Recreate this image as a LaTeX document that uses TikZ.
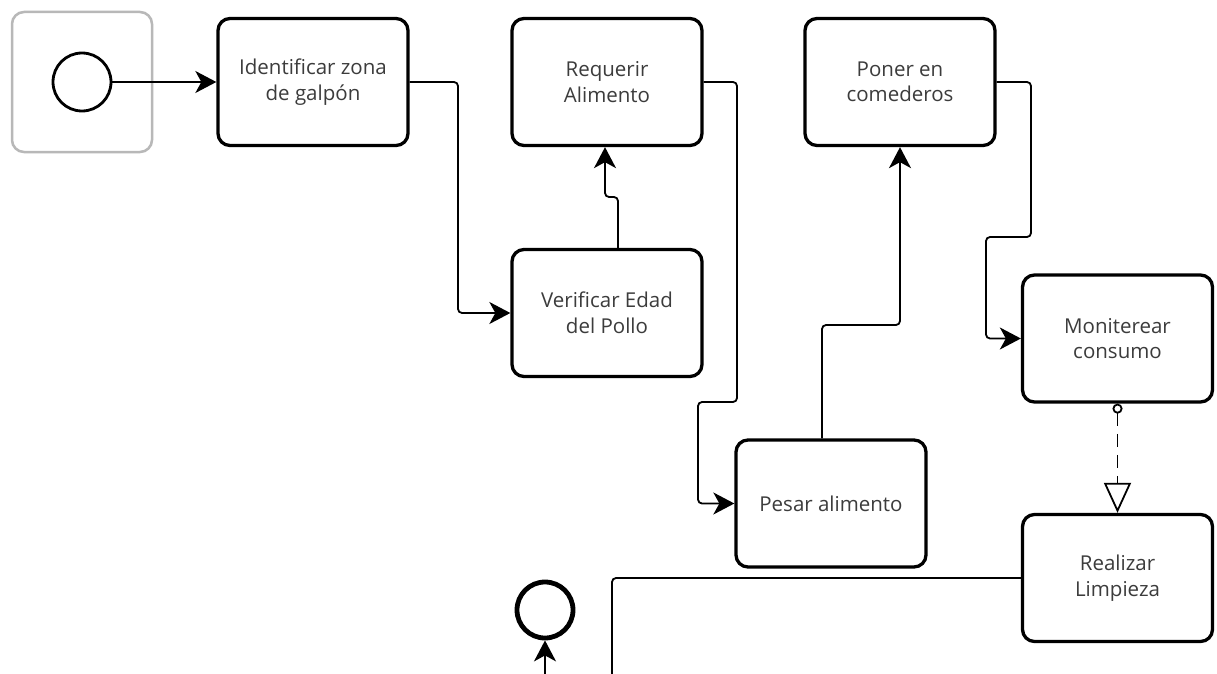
\documentclass[tikz,border=0pt]{standalone}
\usepackage{fontspec}
\setmainfont{Open Sans}
\usetikzlibrary{arrows.meta}
\definecolor{txt}{HTML}{3C3C3C}
\definecolor{poolgray}{HTML}{B8B8B8}
\begin{document}
\begin{tikzpicture}[x=1pt,y=-1pt,
  task/.style={draw, line width=3.3pt, rounded corners=12pt, minimum width=190pt,
    minimum height=127pt, align=center, text=txt, inner sep=0pt,
    font=\fontsize{20.5}{25.5}\selectfont},
  pool/.style={draw=poolgray, line width=2.5pt, rounded corners=12pt,
    minimum width=140pt, minimum height=140pt, inner sep=0pt},
  startev/.style={draw, circle, line width=2.8pt, minimum size=58pt, inner sep=0pt},
  endev/.style={draw, circle, line width=4.8pt, minimum size=56pt, inner sep=0pt},
  flow/.style={draw, line width=1.8pt, rounded corners=4pt,
    -{Stealth[length=21pt,width=22pt,inset=6pt]}},
  seqline/.style={draw, line width=1.8pt, rounded corners=4pt},
  assoc/.style={draw, line width=1.8pt, dash pattern=on 13pt off 8pt,
    {Circle[open,length=10pt,width=10pt]}-{Triangle[open,length=30pt,width=27pt]}}
]
\path[use as bounding box, fill=white] (0,0) rectangle (1217,674);
\clip (0,0) rectangle (1217,674);

% start event inside its grey frame
\node[pool] (frame) at (82,82) {};
\node[startev] (start) at (82,82) {};

% tasks
\node[task] (t1) at (313,82)    {Identificar zona\\de galpón};
\node[task] (t3) at (607,82)    {Requerir\\Alimento};
\node[task] (t2) at (607,313)   {Verificar Edad\\del Pollo};
\node[task] (t5) at (900,82)    {Poner en\\comederos};
\node[task] (t4) at (831,503.5) {Pesar alimento};
\node[task] (t6) at (1117.5,338.5) {Moniterear\\consumo};
\node[task] (t7) at (1117.5,578)   {Realizar\\Limpieza};

% end event
\node[endev] (end) at (545,610) {};

% sequence flows
\draw[flow] (start.east) -- (t1.west);
\draw[flow] (t1.east) -- (458,82) |- (t2.west);
\draw[flow] ([xshift=11pt]t2.north) -- (618,197) -| ([xshift=-2pt]t3.south);
\draw[flow] (t3.east) -- (737,82) -- (737,402) -- (698,402) |- (t4.west);
\draw[flow] ([xshift=-9pt]t4.north) -- (822,325) -| (t5.south);
\draw[flow] (t5.east) -- (1031,82) -- (1031,237) -- (986,237) |- (t6.west);

% association
\draw[assoc] (t6.south) -- (t7.north);

% flow leaving the cleaning task and the one reaching the end event
\coordinate (out) at (612,700);
\coordinate (in) at (545,700);
\draw[seqline] (t7.west) -| (out);
\draw[flow] (in) -- (end.south);
\end{tikzpicture}
\end{document}
